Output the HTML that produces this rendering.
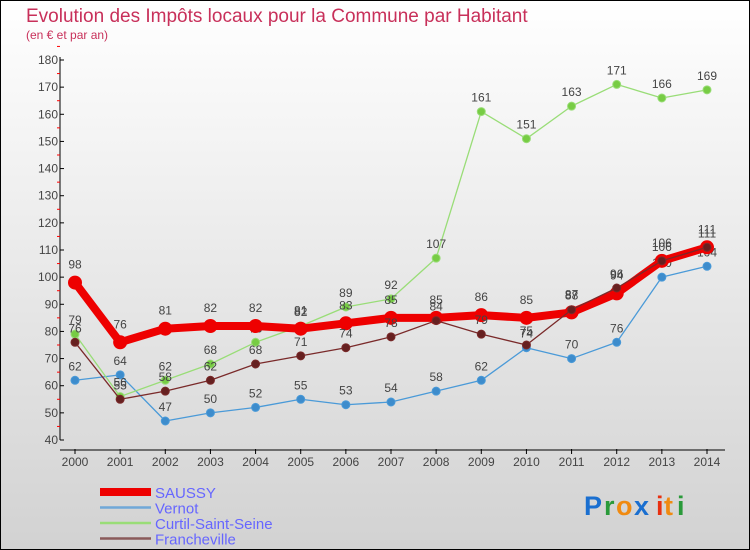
<!DOCTYPE html>
<html><head><meta charset="utf-8"><style>
body{margin:0}
#c{width:750px;height:550px;position:relative;overflow:hidden}
svg text{font-family:"Liberation Sans",sans-serif}
</style></head><body>
<div id="c">
<svg id="s" width="750" height="550" xmlns="http://www.w3.org/2000/svg">
<defs><linearGradient id="bg" x1="0" y1="0" x2="0" y2="1"><stop offset="0" stop-color="#ffffff"/><stop offset="1" stop-color="#d2d2d2"/></linearGradient></defs>
<rect x="0.5" y="0.5" width="749" height="549" fill="url(#bg)" stroke="#000"/>
<text x="26" y="22" font-size="19" fill="#c8305a">Evolution des Impôts locaux pour la Commune par Habitant</text>
<text x="26" y="39" font-size="12" fill="#c8305a">(en € et par an)</text>
<g id="axes"></g><g id="series"></g><g id="legend"></g>
<g font-size="27" font-weight="bold">
<text x="584" y="515" fill="#1a6fd0">P</text><text x="604" y="515" fill="#2a9a3a">r</text><text x="616" y="515" fill="#f08a10">o</text><text x="634" y="515" fill="#1a6fd0">x</text><text x="656" y="515" fill="#e83010">i</text><text x="664" y="515" fill="#f08a10">t</text><text x="677" y="515" fill="#2a9a3a">i</text>
</g>
</svg></div>
<script>
const years=[2000,2001,2002,2003,2004,2005,2006,2007,2008,2009,2010,2011,2012,2013,2014];
const yTicks=[40,50,60,70,80,90,100,110,120,130,140,150,160,170,180];
const saussy=[98,76,81,82,82,81,83,85,85,86,85,87,94,106,111];
const vernot=[62,64,47,50,52,55,53,54,58,62,74,70,76,100,104];
const curtil=[79,56,62,68,76,82,89,92,107,161,151,163,171,166,169];
const franche=[76,55,58,62,68,71,74,78,84,79,75,88,96,106,111];
const NS='http://www.w3.org/2000/svg';
const X=i=>75+i*(707-75)/(years.length-1);
const Y=v=>440-(v-40)*(380/140);
function mk(t,a,p){const e=document.createElementNS(NS,t);for(const k in a)e.setAttribute(k,a[k]);p.appendChild(e);return e;}
const ax=document.getElementById('axes');
let l=mk('line',{x1:60,y1:57,x2:60,y2:440,stroke:'#000'},ax);


yTicks.forEach(v=>{
 mk('line',{x1:60,y1:Y(v),x2:64,y2:Y(v),stroke:'#000'},ax);
 mk('line',{x1:57,y1:Y(v+5),x2:60,y2:Y(v+5),stroke:'#f00'},ax);
 const t=mk('text',{x:58,y:Y(v)+4,'font-size':12,fill:'#444','text-anchor':'end'},ax);t.textContent=v;
 
 
});
l=mk('line',{x1:60,y1:450,x2:725,y2:450,stroke:'#000'},ax);


years.forEach((y,i)=>{
 mk('line',{x1:X(i),y1:449,x2:X(i),y2:454,stroke:'#000'},ax);
 const t=mk('text',{x:X(i),y:466,'font-size':12,fill:'#444','text-anchor':'middle'},ax);t.textContent=y;
 
 
});
const sg=document.getElementById('series');
function series(name,vals,color,lw,r,fill){
 const g=mk('g',{},sg);
 
 
 mk('polyline',{points:vals.map((v,i)=>X(i)+','+Y(v)).join(' '),fill:'none',stroke:color,'stroke-width':lw,'stroke-linejoin':'round'},g);
 vals.forEach((v,i)=>{
  const c=mk('circle',{cx:X(i),cy:Y(v),r:r,fill:fill,stroke:color,'stroke-width':1},g);
  
  
  const t=mk('text',{x:X(i),y:Y(v)-10-(r>5?4:0),'font-size':12,fill:'#444','text-anchor':'middle'},g);t.textContent=v;
  
  
 });
}
series('vernot',vernot,'#4a9ad8',1.3,4,'#3d8ccc');
series('curtil',curtil,'#99dd77',1.3,4,'#77cc44');
series('saussy',saussy,'#ee0000',8,6.5,'#ee0000');
series('francheville',franche,'#7a2a2a',1.3,4,'#662020');
const lg=document.getElementById('legend');
const names=['SAUSSY','Vernot','Curtil-Saint-Seine','Francheville'];
const cols=['#ee0000','#70a8d8','#99dd77','#8a5a5a'];
const ws=[8,2.5,2.5,2.5];
names.forEach((n,i)=>{
 const y=492+i*15.5;
 const g=mk('g',{},lg);
 
 
 mk('line',{x1:100,y1:y,x2:151,y2:y,stroke:cols[i],'stroke-width':ws[i]},g);
 const t=mk('text',{x:155,y:y+6,'font-size':15,fill:'#6666ff'},g);t.textContent=n;
});
</script>
</body></html>
